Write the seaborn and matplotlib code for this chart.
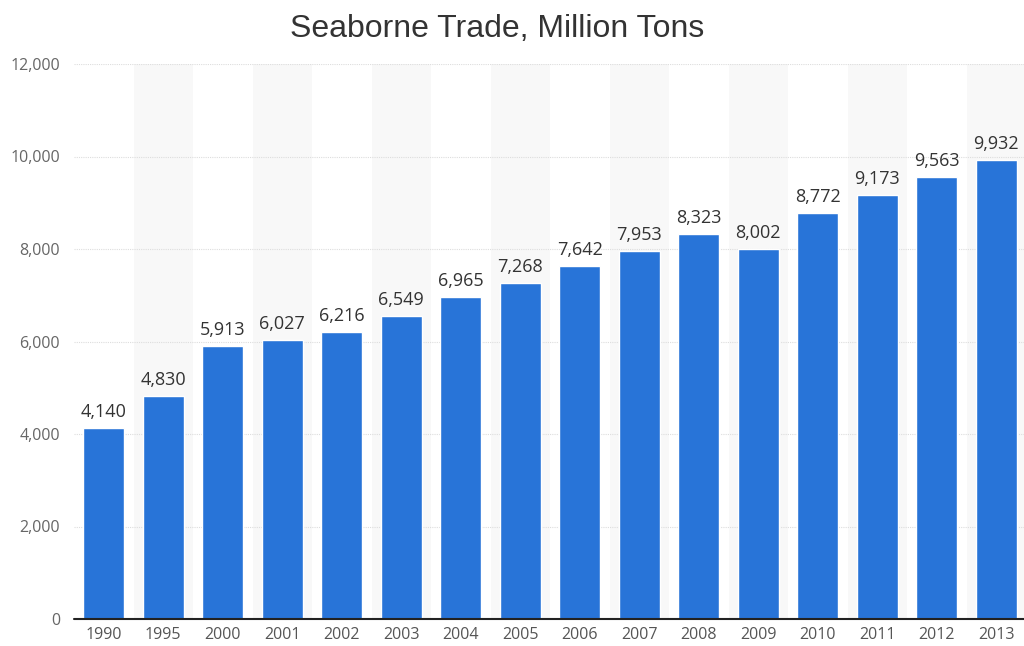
import matplotlib
matplotlib.use("Agg")
import matplotlib.pyplot as plt
import seaborn as sns
import pandas as pd

years = ["1990", "1995", "2000", "2001", "2002", "2003", "2004", "2005",
         "2006", "2007", "2008", "2009", "2010", "2011", "2012", "2013"]
values = [4140, 4830, 5913, 6027, 6216, 6549, 6965, 7268,
          7642, 7953, 8323, 8002, 8772, 9173, 9563, 9932]
yticks = [0, 2000, 4000, 6000, 8000, 10000, 12000]
title = "Seaborne Trade, Million Tons"

df = pd.DataFrame({"year": years, "value": values})

sns.set_theme(style="white")
plt.rcParams["font.family"] = ["Open Sans", "DejaVu Sans"]

fig = plt.figure(figsize=(10.24, 6.46), dpi=100)
ax = fig.add_axes([74/1024, 27/646, 950/1024, 555/646])

# alternating column stripes
for i in range(len(years)):
    if i % 2 == 1:
        ax.axvspan(i - 0.5, i + 0.5, color="#f8f8f8", zorder=0, lw=0)

sns.barplot(data=df, x="year", y="value", color="#2874d8", width=0.69,
            saturation=1, ax=ax, zorder=3)

for i, v in enumerate(values):
    ax.text(i, v + 150, f"{v:,}", ha="center", va="bottom", fontsize=13,
            color="#333333", zorder=4)

ax.set_ylim(0, 12000)
ax.set_xlim(-0.5, -0.5 + 950/59.5)
ax.set_yticks(yticks)
ax.set_yticklabels([f"{t:,}" for t in yticks], fontsize=11.5, color="#666666")
ax.tick_params(axis="x", labelsize=11.5, labelcolor="#555555", length=0, pad=6)
ax.tick_params(axis="y", length=0, pad=10)
ax.set_xlabel("")
ax.set_ylabel("")
for y in yticks[1:]:
    ax.axhline(y, color="#dddddd", lw=0.8, ls=(0, (1, 1)), zorder=1)
ax.axhline(0, color="#222222", lw=1.5, zorder=5, clip_on=False)
for s in ax.spines.values():
    s.set_visible(False)
ax.set_facecolor("white")

fig.text(497/1024, 1 - 29/646, title, ha="center", va="center", fontsize=23,
         color="#333333", family=["Liberation Sans", "DejaVu Sans"])

fig.savefig("out.png", dpi=100)
